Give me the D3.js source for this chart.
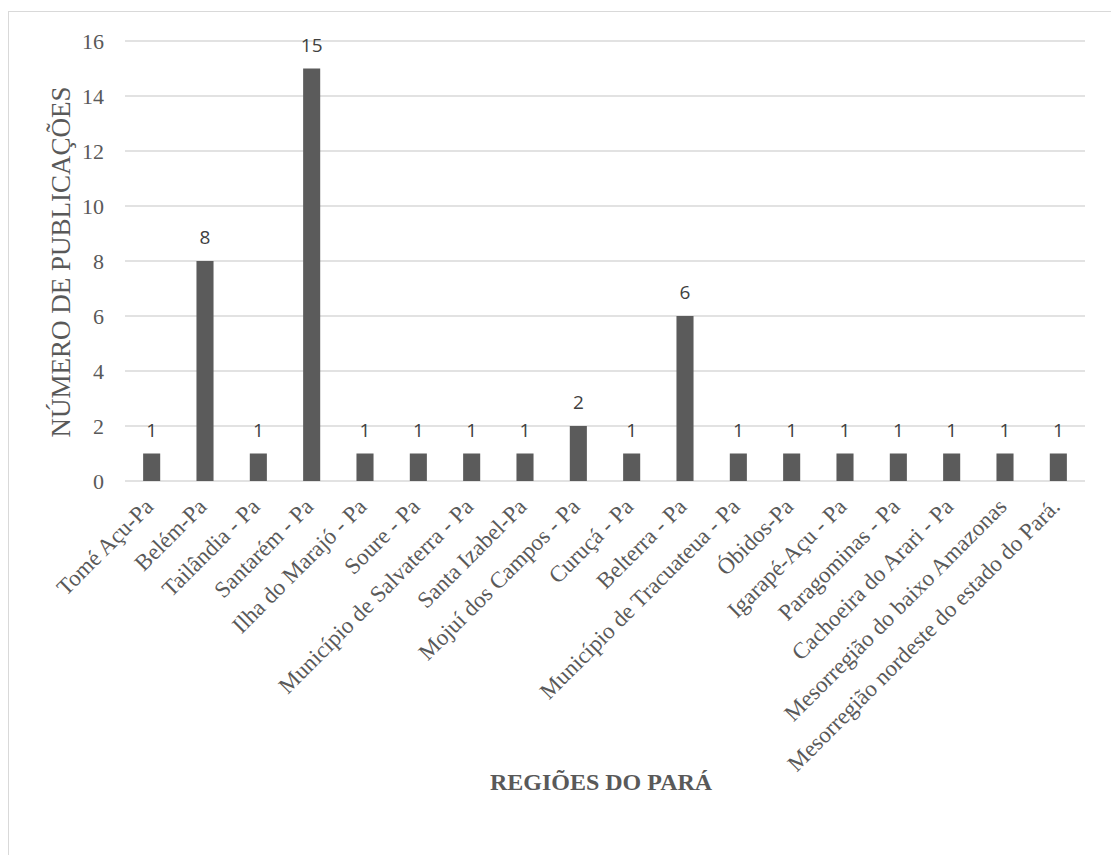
<!DOCTYPE html>
<html>
<head>
<meta charset="utf-8">
<script src="https://cdn.jsdelivr.net/npm/d3@7"></script>
<style>
  body { margin: 0; background: #fff; }
  svg { display: block; }
</style>
</head>
<body>
<div id="chart"></div>
<script>
// Regiões do Pará vs número de publicações
const regions = [
    "Tomé Açu-Pa", "Belém-Pa", "Tailândia - Pa", "Santarém - Pa",
    "Ilha do Marajó - Pa", "Soure - Pa", "Município de Salvaterra - Pa",
    "Santa Izabel-Pa", "Mojuí dos Campos - Pa", "Curuçá - Pa",
    "Belterra - Pa", "Município de Tracuateua - Pa", "Óbidos-Pa",
    "Igarapé-Açu - Pa", "Paragominas - Pa", "Cachoeira do Arari - Pa",
    "Mesorregião do baixo Amazonas", "Mesorregião nordeste do estado do Pará."
];
const publications = [1, 8, 1, 15, 1, 1, 1, 1, 2, 1, 6, 1, 1, 1, 1, 1, 1, 1];
const yTicks = [0, 2, 4, 6, 8, 10, 12, 14, 16];

const serif = "'Liberation Serif', 'Times New Roman', serif";
const sans = "'Open Sans', 'Liberation Sans', sans-serif";

const width = 1111, height = 855;
const margin = { top: 41, right: 26, bottom: 374, left: 125 };

const svg = d3.select("#chart")
    .append("svg")
    .attr("width", width)
    .attr("height", height);

// outer chart frame
svg.append("rect")
    .attr("x", 8.5).attr("y", 11.5)
    .attr("width", width + 10).attr("height", height + 10)
    .attr("fill", "none")
    .attr("stroke", "#d9d9d9")
    .attr("stroke-width", 1);

const x = d3.scaleBand()
    .domain(regions)
    .range([margin.left, width - margin.right])
    .paddingInner(0.68)
    .paddingOuter(0.34);

const y = d3.scaleLinear()
    .domain([0, 16])
    .range([height - margin.bottom, margin.top]);

// gridlines
svg.append("g")
    .selectAll("line")
    .data(yTicks)
    .join("line")
    .attr("x1", margin.left)
    .attr("x2", width - margin.right)
    .attr("y1", (d) => y(d))
    .attr("y2", (d) => y(d))
    .attr("stroke", "#d9d9d9")
    .attr("stroke-width", 1.5);

// y axis labels
const yAxis = d3.axisLeft(y).tickValues(yTicks).tickSize(0).tickPadding(21);
const gy = svg.append("g")
    .attr("transform", `translate(${margin.left},0)`)
    .call(yAxis);
gy.select(".domain").remove();
gy.selectAll("text")
    .style("font-family", serif)
    .style("font-size", "22px")
    .attr("fill", "#595959");

// bars
svg.selectAll("rect.bar")
    .data(regions)
    .join("rect")
    .attr("class", "bar")
    .attr("x", (d) => x(d))
    .attr("width", x.bandwidth())
    .attr("y", (d, i) => y(publications[i]))
    .attr("height", (d, i) => y(0) - y(publications[i]))
    .attr("fill", "#5b5b5b");

// value labels
svg.selectAll("text.val")
    .data(regions)
    .join("text")
    .attr("class", "val")
    .attr("x", (d) => x(d) + x.bandwidth() / 2)
    .attr("y", (d, i) => y(publications[i]) - 17)
    .attr("text-anchor", "middle")
    .style("font-family", sans)
    .style("font-size", "19px")
    .attr("fill", "#404040")
    .text((d, i) => publications[i]);

// x axis category labels
const xAxis = d3.axisBottom(x).tickSize(0).tickPadding(0);
const gx = svg.append("g")
    .attr("transform", `translate(0,${height - margin.bottom})`)
    .call(xAxis);
gx.select(".domain").remove();
gx.selectAll("text")
    .style("font-family", serif)
    .style("font-size", "23px")
    .attr("fill", "#595959")
    .attr("text-anchor", "end")
    .attr("dy", "0")
    .attr("transform", "translate(3,27) rotate(-45)");

// axis titles
svg.append("text")
    .attr("transform", "rotate(-90)")
    .attr("x", -262)
    .attr("y", 70)
    .attr("text-anchor", "middle")
    .style("font-family", serif)
    .style("font-size", "27px")
    .attr("fill", "#595959")
    .text("NÚMERO DE PUBLICAÇÕES");

svg.append("text")
    .attr("x", 601)
    .attr("y", 790)
    .attr("text-anchor", "middle")
    .style("font-family", serif)
    .style("font-weight", "bold")
    .style("font-size", "24px")
    .attr("fill", "#595959")
    .text("REGIÕES DO PARÁ");
</script>
</body>
</html>
